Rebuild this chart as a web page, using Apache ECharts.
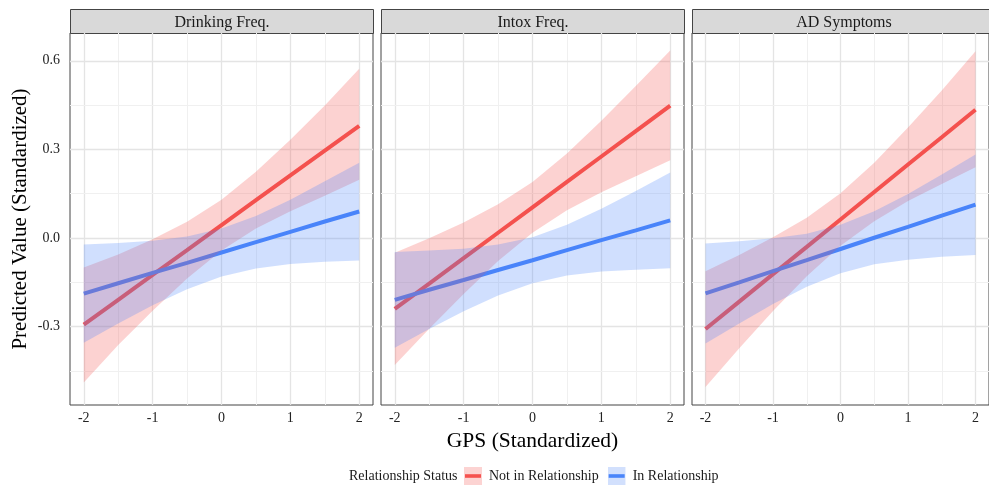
<!DOCTYPE html>
<html>
<head>
<meta charset="utf-8">
<script src="https://cdn.jsdelivr.net/npm/echarts@6/dist/echarts.min.js"></script>
<style>
  html, body { margin: 0; padding: 0; background: #fff; }
  #chart { width: 989px; height: 489px; }
</style>
</head>
<body>
<div id="chart"></div>
<script>
var gps = [-2, -1.5, -1, -0.5, 0, 0.5, 1, 1.5, 2];

var panels = ['Drinking Freq.', 'Intox Freq.', 'AD Symptoms'];
var groups = ['Not in Relationship', 'In Relationship'];

// Drinking Freq.
var drinkNotLine = [-0.293, -0.209, -0.125, -0.041, 0.044, 0.128, 0.212, 0.296, 0.380];
var drinkNotLow  = [-0.489, -0.362, -0.246, -0.137, -0.042, 0.032, 0.091, 0.143, 0.197];
var drinkNotHigh = [-0.100, -0.056, -0.004, 0.055, 0.130, 0.224, 0.333, 0.449, 0.573];
var drinkInLine  = [-0.188, -0.153, -0.118, -0.084, -0.049, -0.014, 0.021, 0.056, 0.090];
var drinkInLow   = [-0.354, -0.289, -0.227, -0.173, -0.130, -0.103, -0.088, -0.080, -0.076];
var drinkInHigh  = [-0.022, -0.017, -0.009, 0.005, 0.032, 0.075, 0.130, 0.192, 0.255];

// Intox Freq.
var intoxNotLine = [-0.240, -0.154, -0.068, 0.018, 0.104, 0.190, 0.276, 0.362, 0.448];
var intoxNotLow  = [-0.430, -0.307, -0.189, -0.078, 0.018, 0.094, 0.155, 0.209, 0.263];
var intoxNotHigh = [-0.050, -0.001, 0.053, 0.114, 0.190, 0.286, 0.397, 0.515, 0.635];
var intoxInLine  = [-0.209, -0.175, -0.142, -0.108, -0.075, -0.041, -0.007, 0.026, 0.060];
var intoxInLow   = [-0.371, -0.308, -0.248, -0.194, -0.153, -0.127, -0.113, -0.107, -0.102];
var intoxInHigh  = [-0.047, -0.042, -0.036, -0.022, 0.003, 0.045, 0.099, 0.159, 0.222];

// AD Symptoms
var adNotLine = [-0.308, -0.215, -0.122, -0.030, 0.063, 0.156, 0.249, 0.341, 0.434];
var adNotLow  = [-0.504, -0.373, -0.247, -0.129, -0.026, 0.057, 0.125, 0.183, 0.240];
var adNotHigh = [-0.112, -0.057, 0.003, 0.069, 0.152, 0.255, 0.374, 0.499, 0.632];
var adInLine  = [-0.187, -0.150, -0.112, -0.075, -0.037, 0.001, 0.038, 0.076, 0.113];
var adInLow   = [-0.357, -0.289, -0.223, -0.165, -0.119, -0.089, -0.073, -0.063, -0.057];
var adInHigh  = [-0.018, -0.011, -0.001, 0.015, 0.045, 0.091, 0.149, 0.215, 0.283];

var xTicks = [-2, -1, 0, 1, 2];
var xMinor = [-1.5, -0.5, 0.5, 1.5];
var yTicks = [-0.3, 0, 0.3, 0.6];
var yMinor = [-0.45, -0.15, 0.15, 0.45];

var panelData = [
  [[drinkNotLine, drinkNotLow, drinkNotHigh], [drinkInLine, drinkInLow, drinkInHigh]],
  [[intoxNotLine, intoxNotLow, intoxNotHigh], [intoxInLine, intoxInLow, intoxInHigh]],
  [[adNotLine, adNotLow, adNotHigh], [adInLine, adInLow, adInHigh]]
];

var lineColors = ['#f5524f', '#4a85fa'];
var bandColors = ['rgba(245,82,79,0.26)', 'rgba(74,133,250,0.26)'];
var serif = 'Liberation Serif';

var panelLeft = [70, 381, 692];
var panelWidth = 303;
var panelTop = 33;
var panelHeight = 372;
var stripHeight = 24;

function keyIcon(fill, stroke) {
  var svg = '<svg xmlns="http://www.w3.org/2000/svg" width="18" height="18">' +
    '<rect width="18" height="18" fill="' + fill + '"/>' +
    '<rect x="1" y="7.2" width="16" height="3.6" fill="' + stroke + '"/></svg>';
  return 'image://data:image/svg+xml;charset=utf-8,' + encodeURIComponent(svg);
}

function zip(ys) {
  return gps.map(function (x, k) { return [x, ys[k]]; });
}

// ribbon drawn as one polygon through the axis scales
function bandRender(low, high, color) {
  return function (params, api) {
    if (params.dataIndex !== 0) return;
    var pts = [];
    for (var k = 0; k < gps.length; k++) pts.push(api.coord([gps[k], high[k]]));
    for (var k = gps.length - 1; k >= 0; k--) pts.push(api.coord([gps[k], low[k]]));
    return { type: 'polygon', shape: { points: pts }, style: { fill: color } };
  };
}

function gridLines() {
  var d = [];
  xTicks.forEach(function (v) { d.push({ xAxis: v, lineStyle: { color: '#e4e4e4', width: 1.3 } }); });
  xMinor.forEach(function (v) { d.push({ xAxis: v, lineStyle: { color: '#f0f0f0', width: 1 } }); });
  yTicks.forEach(function (v) { d.push({ yAxis: v, lineStyle: { color: '#e4e4e4', width: 1.3 } }); });
  yMinor.forEach(function (v) { d.push({ yAxis: v, lineStyle: { color: '#f0f0f0', width: 1 } }); });
  return d;
}

var grids = [], xAxes = [], yAxes = [], series = [], graphics = [];

panels.forEach(function (title, i) {
  grids.push({
    left: panelLeft[i], top: panelTop, width: panelWidth, height: panelHeight,
    show: true, borderColor: '#444', borderWidth: 1, backgroundColor: '#fff'
  });
  xAxes.push({
    type: 'value', gridIndex: i, min: -2.2, max: 2.2,
    axisLine: { show: false },
    splitLine: { show: false },
    axisTick: { show: true, length: 3, customValues: xTicks, lineStyle: { color: '#333' } },
    axisLabel: { customValues: xTicks, color: '#222', fontFamily: serif, fontSize: 14, margin: 6 },
    name: i === 1 ? 'GPS (Standardized)' : '',
    nameLocation: 'middle', nameGap: 24,
    nameTextStyle: { color: '#000', fontFamily: serif, fontSize: 21.5 }
  });
  yAxes.push({
    type: 'value', gridIndex: i, min: -0.565, max: 0.694,
    axisLine: { show: false },
    splitLine: { show: false },
    axisTick: { show: i === 0, length: 3, customValues: yTicks, lineStyle: { color: '#333' } },
    axisLabel: {
      show: i === 0, customValues: yTicks, color: '#222', fontFamily: serif, fontSize: 14, margin: 10,
      formatter: function (v) { return v.toFixed(1); }
    },
    name: i === 0 ? 'Predicted Value (Standardized)' : '',
    nameLocation: 'middle', nameGap: 39, nameRotate: 90,
    nameTextStyle: { color: '#000', fontFamily: serif, fontSize: 21 }
  });

  // lines first, ribbons drawn over them
  groups.forEach(function (g, j) {
    var s = {
      type: 'line', name: g, xAxisIndex: i, yAxisIndex: i,
      data: zip(panelData[i][j][0]),
      symbol: 'none', z: 2,
      lineStyle: { color: lineColors[j], width: 4 },
      itemStyle: { color: lineColors[j] }
    };
    if (j === 0) {
      s.markLine = {
        silent: true, symbol: ['none', 'none'], z: 1,
        label: { show: false }, data: gridLines(),
        lineStyle: { type: 'solid' }
      };
    }
    series.push(s);
  });
  groups.forEach(function (g, j) {
    series.push({
      type: 'custom', name: g + ' CI', xAxisIndex: i, yAxisIndex: i, z: 3,
      data: zip(panelData[i][j][1]),
      renderItem: bandRender(panelData[i][j][1], panelData[i][j][2], bandColors[j])
    });
  });

  graphics.push({
    type: 'group', left: panelLeft[i], top: panelTop - stripHeight,
    children: [
      { type: 'rect', shape: { x: 0, y: 0, width: panelWidth, height: stripHeight },
        style: { fill: '#d9d9d9', stroke: '#444', lineWidth: 1 } },
      { type: 'text', x: panelWidth / 2, y: stripHeight / 2 + 1,
        style: { text: title, fill: '#1a1a1a', font: '16px "' + serif + '"', textAlign: 'center', textVerticalAlign: 'middle' } }
    ]
  });
});

graphics.push({
  type: 'text', left: 349, top: 469,
  style: { text: 'Relationship Status', fill: '#1a1a1a', font: '14px "' + serif + '"' }
});

var option = {
  animation: false,
  backgroundColor: '#fff',
  grid: grids,
  xAxis: xAxes,
  yAxis: yAxes,
  legend: {
    left: 464, top: 467, itemWidth: 18, itemHeight: 18, itemGap: 9, padding: 0,
    textStyle: { color: '#1a1a1a', fontFamily: serif, fontSize: 14, padding: [0, 0, 0, 2] },
    data: [
      { name: groups[0], icon: keyIcon('#fcd3d2', lineColors[0]) },
      { name: groups[1], icon: keyIcon('#d2e0fd', lineColors[1]) }
    ]
  },
  graphic: graphics,
  series: series
};

var myChart = echarts.init(document.getElementById('chart'));
myChart.setOption(option);
</script>
</body>
</html>
